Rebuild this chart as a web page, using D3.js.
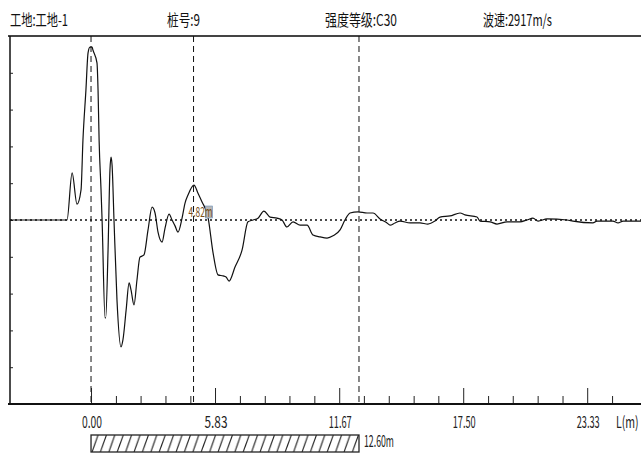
<!DOCTYPE html>
<html>
<head>
<meta charset="utf-8">
<script src="https://cdn.jsdelivr.net/npm/d3@7"></script>
<style>
  body { margin: 0; background: #fff; }
  svg { display: block; }
</style>
</head>
<body>
<script>
var headerTexts = ['工地:工地-1', '桩号:9', '强度等级:C30', '波速:2917m/s'];
var headerX = [10, 167, 325, 483];
var headerW = [58, 33, 72, 69];

// distance along pile (m) and signal amplitude
var dist = [-3.81, -1.13, -0.89, -0.66, -0.47, -0.38, -0.24, -0.14, -0.05, 0.05, 0.09, 0.28, 0.33, 0.38, 0.47,
  0.52, 0.66, 0.69, 0.80, 0.89, 0.94, 0.99, 1.08, 1.22, 1.41, 1.50, 1.65, 1.79, 1.88, 2.02, 2.16, 2.30,
  2.49, 2.68, 2.87, 3.01, 3.15, 3.34, 3.48, 3.67, 3.81, 3.95, 4.09, 4.28, 4.42, 4.56, 4.84, 5.03, 5.22,
  5.50, 5.74, 5.97, 6.21, 6.35, 6.49, 6.77, 7.10, 7.38, 7.62, 7.85, 8.13, 8.42, 8.74, 8.98, 9.21, 9.50,
  9.83, 10.16, 10.44, 10.77, 11.10, 11.38, 11.71, 11.94, 12.18, 12.55, 12.98, 13.26, 13.59, 13.92, 14.06,
  14.29, 14.53, 15.00, 15.47, 15.84, 16.17, 16.41, 16.88, 17.35, 17.58, 18.15, 18.29, 18.76, 19.09, 19.56,
  20.17, 20.50, 20.78, 21.02, 21.44, 22.38, 22.66, 23.60, 23.79, 24.54, 24.78, 25.02, 25.86];
var amp = [0, 0, 1.28, 0.43, 0.82, 2.17, 3.53, 4.54, 4.70, 4.70, 4.62, 4.27, 3.53, 2.17, 0.82,
  0, -2.66, -2.66, -0.82, 1.36, 1.71, 1.49, 0, -2.17, -3.45, -3.26, -2.45, -1.71, -1.90, -2.31, -1.63, -1.01,
  -0.95, -0.27, 0.35, 0.19, -0.33, -0.60, -0.22, 0.16, 0, -0.16, -0.33, 0.05, 0.46, 0.68, 0.95, 0.73, 0.49,
  0.08, -0.90, -1.49, -1.52, -1.55, -1.66, -1.28, -0.82, -0.05, 0, 0.05, 0.24, 0.08, 0.05, 0, -0.19, -0.05,
  -0.14, -0.14, -0.41, -0.46, -0.49, -0.43, -0.27, 0, 0.19, 0.22, 0.19, 0.19, 0.03, -0.08, -0.14,
  -0.08, -0.03, -0.08, -0.08, -0.11, -0.03, 0.08, 0.11, 0.19, 0.14, 0.08, -0.03, -0.05, -0.11, -0.05,
  -0.05, 0, 0.05, -0.03, 0.03, 0, -0.03, -0.08, -0.03, -0.03, -0.08, -0.03, -0.03];

var majorTicks = [0, 5.83, 11.67, 17.50, 23.33];
var majorLabels = ['0.00', '5.83', '11.67', '17.50', '23.33'];
var minorTicks = [1.17, 2.33, 3.50, 4.67, 7.00, 8.17, 9.33, 10.50, 12.83, 14.00, 15.17, 16.33,
  18.67, 19.83, 21.00, 22.17, 24.50];
var yTicks = [-4, -3, -2, -1, 0, 1, 2, 3, 4];
var markers = [0, 4.82, 12.60];
var defectLabel = '4.82m';
var pileLength = 12.60;
var pileLabel = '12.60m';
var axisName = 'L(m)';

(function() {
  var w = 641, h = 456;
  var plotTop = 36, plotBottom = 404, plotLeft = 10;

  var x = d3.scaleLinear().domain([-3.81, 25.86]).range([plotLeft, w]);
  var y = d3.scaleLinear().domain([-5, 5]).range([plotBottom, plotTop]);

  var svg = d3.select('body').append('svg')
    .attr('width', w)
    .attr('height', h)
    .style('font-family', '"Noto Sans CJK SC", "DejaVu Sans", sans-serif');

  // hatch for the pile bar
  svg.append('defs').append('pattern')
    .attr('id', 'hatch')
    .attr('patternUnits', 'userSpaceOnUse')
    .attr('x', x(0))
    .attr('y', 435)
    .attr('width', 8.4)
    .attr('height', 17)
    .append('line')
      .attr('x1', 1).attr('y1', 17)
      .attr('x2', 7).attr('y2', 0)
      .attr('stroke', '#222')
      .attr('stroke-width', 1.1);

  // header
  svg.append('g').selectAll('text')
    .data(headerTexts)
    .enter()
    .append('text')
      .text(function(d) { return d; })
      .attr('x', function(d, i) { return headerX[i]; })
      .attr('y', 26)
      .attr('font-size', 16)
      .attr('textLength', function(d, i) { return headerW[i]; })
      .attr('lengthAdjust', 'spacingAndGlyphs')
      .attr('fill', '#111');

  // frame
  svg.append('line')
    .attr('x1', plotLeft - 2).attr('x2', w)
    .attr('y1', plotTop).attr('y2', plotTop)
    .attr('stroke', '#444').attr('stroke-width', 2);

  svg.append('line')
    .attr('x1', plotLeft).attr('x2', plotLeft)
    .attr('y1', plotTop).attr('y2', plotBottom)
    .attr('stroke', '#111').attr('stroke-width', 1.5);

  // y ticks on the left border
  svg.append('g')
    .attr('transform', 'translate(' + plotLeft + ',0)')
    .call(d3.axisRight(y).tickValues(yTicks).tickSize(3).tickFormat(''))
    .call(function(g) { g.select('.domain').remove(); });

  // baseline
  svg.append('line')
    .attr('x1', plotLeft).attr('x2', w)
    .attr('y1', y(0)).attr('y2', y(0))
    .attr('stroke', '#111')
    .attr('stroke-width', 1.5)
    .attr('stroke-dasharray', '2,3');

  // vertical markers
  svg.append('g').selectAll('line')
    .data(markers)
    .enter()
    .append('line')
      .attr('x1', function(d) { return x(d); })
      .attr('x2', function(d) { return x(d); })
      .attr('y1', plotTop)
      .attr('y2', plotBottom)
      .attr('stroke', '#111')
      .attr('stroke-dasharray', '6,4');

  // wave
  var line = d3.line()
    .x(function(d) { return x(d); })
    .y(function(d, i) { return y(amp[i]); })
    .curve(d3.curveMonotoneX);

  svg.append('path')
    .datum(dist)
    .attr('d', line)
    .attr('fill', 'none')
    .attr('stroke', '#111')
    .attr('stroke-width', 1.2);

  // defect label
  var dl = svg.append('g');
  dl.append('rect')
    .attr('x', x(4.82) + 12).attr('y', 206)
    .attr('width', 7).attr('height', 12)
    .attr('fill', '#b8b8b8')
    .attr('stroke', '#6a8fb8').attr('stroke-width', 0.6);
  dl.append('text')
    .text(defectLabel)
    .attr('x', x(4.82) - 5)
    .attr('y', 217)
    .attr('font-size', 14)
    .attr('textLength', 24)
    .attr('lengthAdjust', 'spacingAndGlyphs')
    .attr('fill', '#7a5018');

  // x axis
  svg.append('g')
    .attr('transform', 'translate(0,' + plotBottom + ')')
    .call(d3.axisTop(x).tickValues(minorTicks).tickSize(8).tickFormat(''))
    .call(function(g) { g.select('.domain').remove(); });

  svg.append('g')
    .attr('transform', 'translate(0,' + plotBottom + ')')
    .call(d3.axisTop(x).tickValues(majorTicks).tickSize(16).tickFormat(''))
    .call(function(g) { g.select('.domain').remove(); });

  svg.selectAll('.tick line').attr('stroke', '#222');

  svg.append('line')
    .attr('x1', plotLeft - 2).attr('x2', w)
    .attr('y1', plotBottom).attr('y2', plotBottom)
    .attr('stroke', '#111').attr('stroke-width', 2);

  svg.append('g').selectAll('text')
    .data(majorTicks)
    .enter()
    .append('text')
      .text(function(d, i) { return majorLabels[i]; })
      .attr('x', function(d) { return x(d) + 1; })
      .attr('y', 428)
      .attr('text-anchor', 'middle')
      .attr('font-size', 16)
      .attr('textLength', function(d, i) { return i === 0 ? 20 : 23; })
      .attr('lengthAdjust', 'spacingAndGlyphs')
      .attr('fill', '#222');

  // axis name squeezed with a transform so its box stays inside the page
  svg.append('text')
    .text(axisName)
    .attr('transform', 'translate(616,428) scale(0.66,1)')
    .attr('font-size', 16)
    .attr('fill', '#222');

  // pile length bar
  svg.append('rect')
    .attr('x', x(0))
    .attr('y', 435)
    .attr('width', x(pileLength) - x(0))
    .attr('height', 17)
    .attr('fill', 'url(#hatch)')
    .attr('stroke', '#222')
    .attr('stroke-width', 1.3);

  svg.append('text')
    .text(pileLabel)
    .attr('x', x(pileLength) + 5)
    .attr('y', 447)
    .attr('font-size', 16)
    .attr('textLength', 30)
    .attr('lengthAdjust', 'spacingAndGlyphs')
    .attr('fill', '#222');
})();
</script>
</body>
</html>
